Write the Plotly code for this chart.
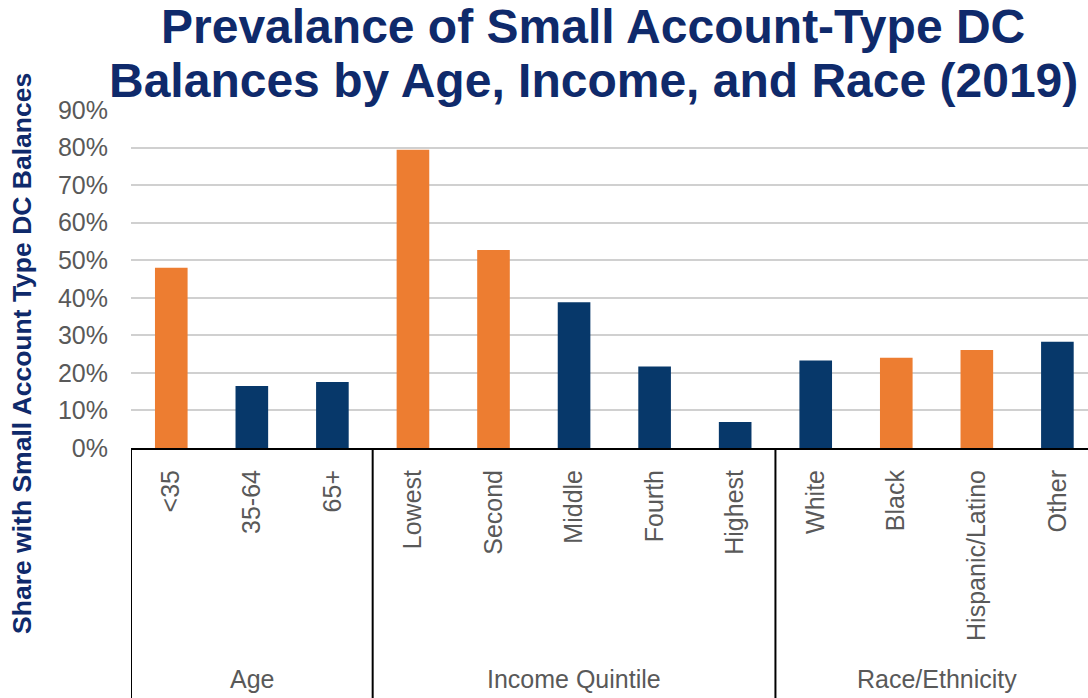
import plotly.graph_objects as go

categories = ["<35", "35-64", "65+", "Lowest", "Second", "Middle", "Fourth", "Highest",
              "White", "Black", "Hispanic/Latino", "Other"]
groups = ["Age", "Income Quintile", "Race/Ethnicity"]
group_sizes = [3, 5, 4]
values = [48.0, 16.5, 17.6, 79.4, 52.7, 38.8, 21.7, 6.9, 23.3, 24.0, 26.1, 28.3]
highlight = [True, False, False, True, True, False, False, False, False, True, True, False]
y_ticks = [0, 10, 20, 30, 40, 50, 60, 70, 80, 90]
y_tick_labels = [f"{v}%" for v in y_ticks]
title_lines = ["Prevalance of Small Account-Type DC",
               "Balances by Age, Income, and Race (2019)"]

ORANGE = "#ED7D31"
NAVY = "#07386A"
TITLE_NAVY = "#0F2A6B"
GRAY = "#595959"
FONT = "Liberation Sans, Arial, sans-serif"

x_idx = list(range(len(categories)))
colors = [ORANGE if h else NAVY for h in highlight]

fig = go.Figure()
fig.add_trace(go.Bar(
    x=x_idx, y=values, marker=dict(color=colors, line=dict(width=0)),
    width=0.405, hoverinfo="skip",
))

shapes = []
annotations = []
start = 0
bounds = [-0.5]
for g, n in zip(groups, group_sizes):
    annotations.append(dict(
        x=(start + start + n - 1) / 2, xref="x", y=-0.683, yref="paper",
        text=g, showarrow=False, xanchor="center", yanchor="middle",
        font=dict(size=25, color=GRAY, family=FONT)))
    start += n
    bounds.append(start - 0.5)
for b in bounds[:-1]:
    shapes.append(dict(type="line", xref="x", yref="paper", x0=b, x1=b,
                       y0=0, y1=-0.75, line=dict(color="black", width=2)))

# y-axis title
annotations.append(dict(
    x=-0.114, xref="paper", y=0.281, yref="paper", textangle=-90,
    text="<b>Share with Small Account Type DC Balances</b>", showarrow=False,
    xanchor="center", yanchor="middle",
    font=dict(size=26.5, color=TITLE_NAVY, family=FONT)))

# chart title, two lines
for line, ypos in zip(title_lines, [1.163, 1.003]):
    annotations.append(dict(
        x=0.483, xref="paper", y=ypos, yref="paper",
        text=f"<b>{line}</b>",
        showarrow=False, xanchor="center", yanchor="bottom",
        font=dict(size=48, color=TITLE_NAVY, family=FONT)))

fig.update_layout(
    width=1088, height=698,
    margin=dict(l=131, r=0, t=110, b=250),
    paper_bgcolor="white", plot_bgcolor="white",
    showlegend=False,
    shapes=shapes,
    annotations=annotations,
)
fig.update_xaxes(
    range=[-0.5, 11.38], tickmode="array", tickvals=x_idx, ticktext=categories,
    tickangle=-90, tickfont=dict(size=25, color=GRAY, family=FONT),
    showline=True, linecolor="black", linewidth=2, showgrid=False,
    ticks="", ticklabelstandoff=10,
)
fig.update_yaxes(
    range=[0, 90], tickmode="array", tickvals=y_ticks, ticktext=y_tick_labels,
    tickfont=dict(size=25, color=GRAY, family=FONT),
    showgrid=True, gridcolor="#D0D0D0", gridwidth=1.5, zeroline=False,
    showline=False, ticks="", ticklabelstandoff=22,
)

fig.write_html("out.html")
